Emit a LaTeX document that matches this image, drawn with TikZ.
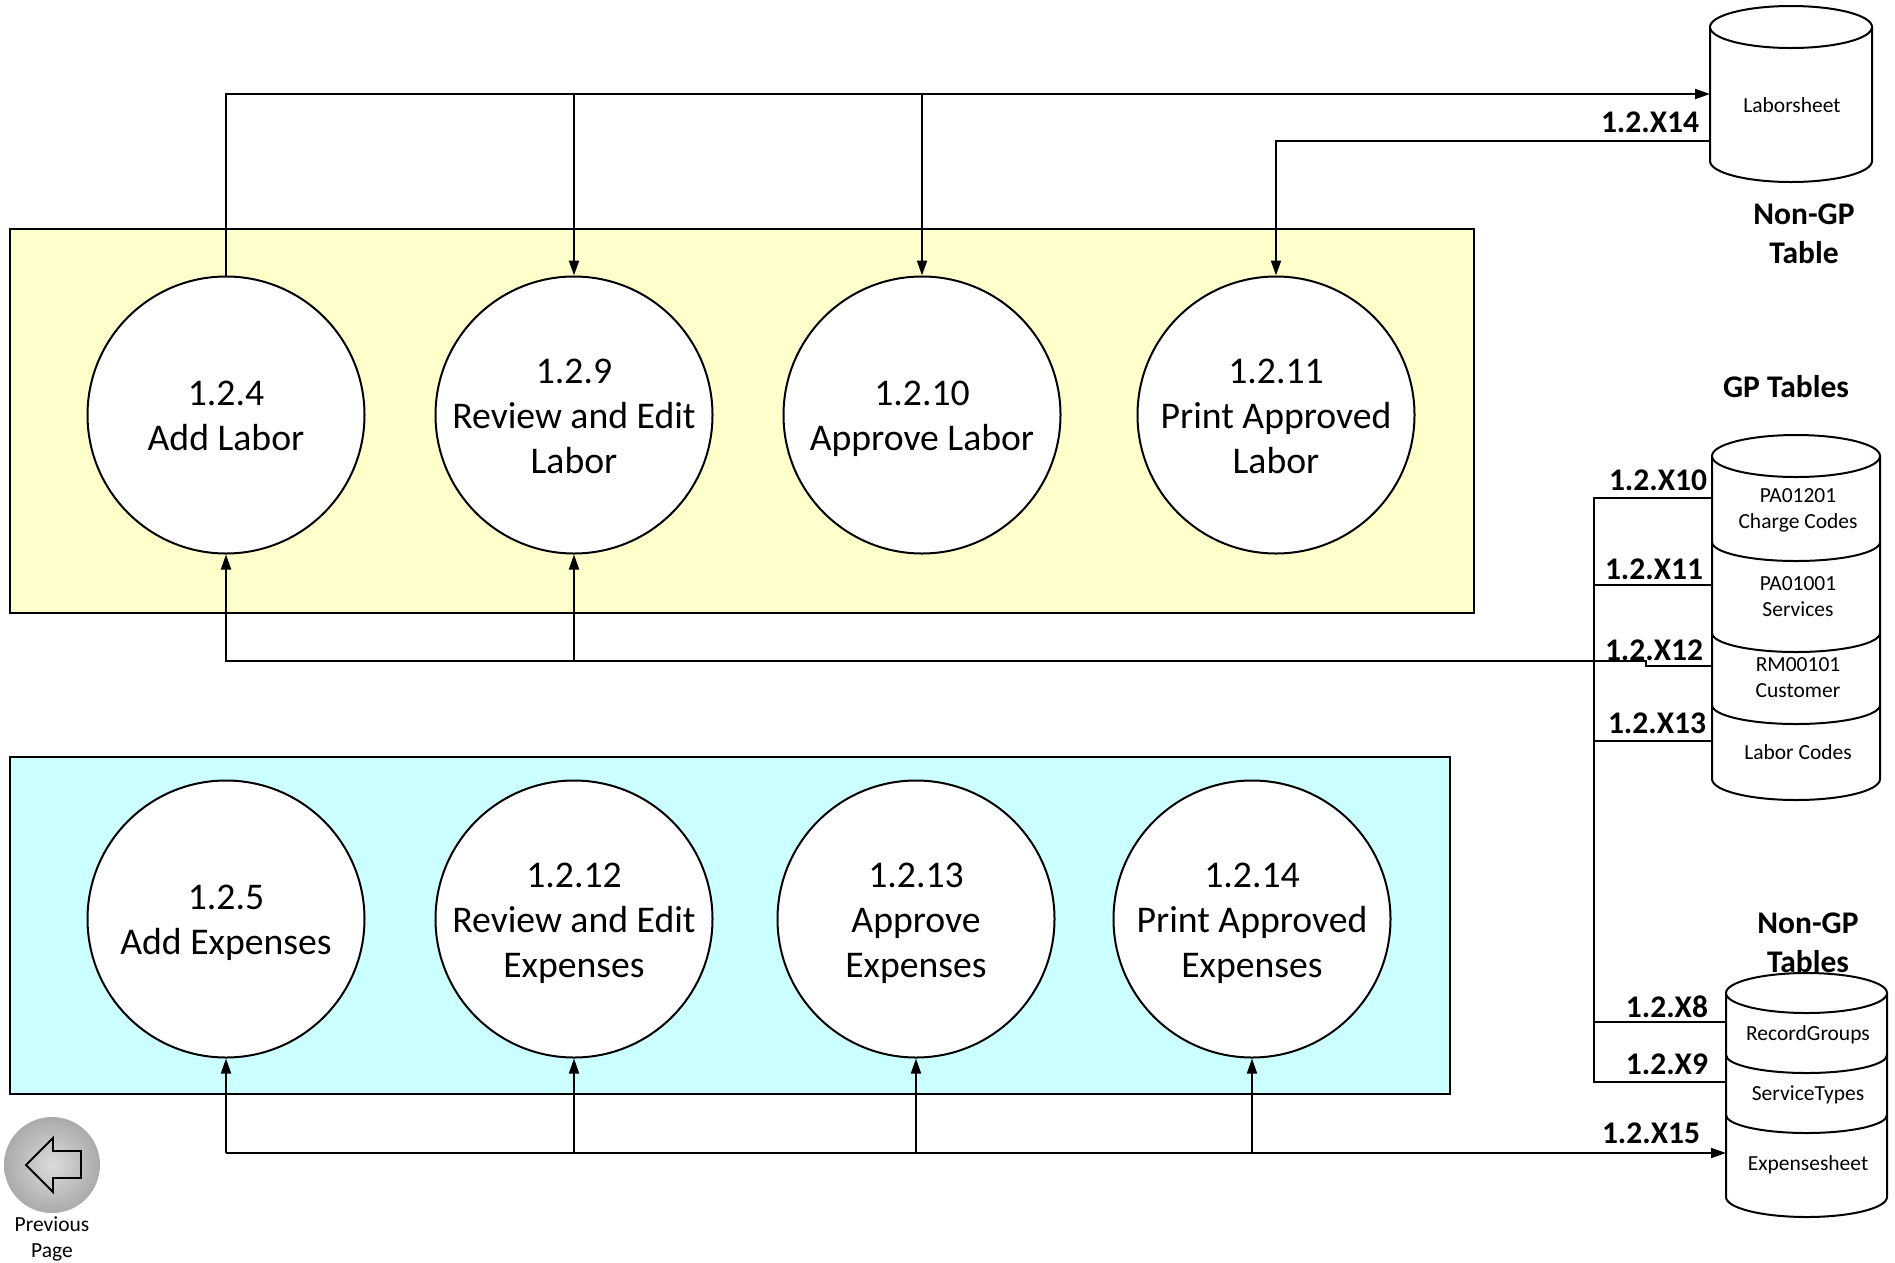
\documentclass[tikz,border=0pt]{standalone}
\usepackage{fontspec}
\setmainfont{Carlito}
\usetikzlibrary{arrows.meta}
\definecolor{yellowbox}{HTML}{FFFFCC}
\definecolor{cyanbox}{HTML}{CCFFFF}
\pgfdeclareradialshading{btnshade}{\pgfpoint{0bp}{0bp}}{rgb(0bp)=(.86,.86,.86); rgb(30bp)=(.63,.63,.63); rgb(50bp)=(.63,.63,.63)}
\newcommand{\st}{\rule[-0.15em]{0pt}{1em}}
\tikzset{
  band/.style={draw=black,line width=2pt},
  proc/.style={circle,draw=black,fill=white,line width=2pt,minimum size=277pt,inner sep=0pt,align=center,
    font=\fontsize{37.7}{45}\selectfont},
  conn/.style={draw=black,line width=2pt},
  arr/.style={conn,-{Triangle[length=15pt,width=10pt]}},
  cyl/.style={draw=black,line width=2pt,line join=round},
  flow/.style={font=\fontsize{31.5}{36}\bfseries\selectfont,inner sep=0pt},
  head/.style={font=\fontsize{31.5}{38.5}\bfseries\selectfont,inner sep=0pt,align=center},
  small/.style={font=\fontsize{21.5}{26}\selectfont,inner sep=0pt,align=center}
}
% left, right, top-ellipse centre y, ry, bottom side y
\newcommand{\cylshape}[5]{%
  \draw[cyl] (#1,#3) -- (#1,#5) arc[start angle=180,end angle=0,x radius={(#2-#1)/2},y radius=#4] -- (#2,#3)
    arc[start angle=0,end angle=-180,x radius={(#2-#1)/2},y radius=#4]
    arc[start angle=180,end angle=0,x radius={(#2-#1)/2},y radius=#4];}
\newcommand{\cylband}[4]{%
  \draw[cyl] (#1,#3) arc[start angle=180,end angle=0,x radius={(#2-#1)/2},y radius=#4];}
\begin{document}
\begin{tikzpicture}[x=1pt,y=-1pt]
\useasboundingbox (0,0) rectangle (1895,1262);
% bands
\draw[band,fill=yellowbox] (10,229) rectangle (1474,613);
\draw[band,fill=cyanbox] (10,757) rectangle (1450,1093.5);
% processes
\node[proc] (p4) at (226,415) {\st 1.2.4\\\st Add Labor};
\node[proc] (p9) at (574,415) {\st 1.2.9\\Review and Edit\\\st Labor};
\node[proc] (p10) at (922,415) {\st 1.2.10\\\st Approve Labor};
\node[proc] (p11) at (1276,415) {\st 1.2.11\\Print Approved\\\st Labor};
\node[proc] (p5) at (226,919) {\st 1.2.5\\\st Add Expenses};
\node[proc] (p12) at (574,919) {\st 1.2.12\\Review and Edit\\\st Expenses};
\node[proc] (p13) at (916,919) {\st 1.2.13\\Approve\\\st Expenses};
\node[proc] (p14) at (1252,919) {\st 1.2.14\\Print Approved\\\st Expenses};
% cylinders
\cylshape{1710}{1872}{27}{21}{161}
\cylshape{1712}{1880}{456}{21}{779}
\cylband{1712}{1880}{542}{19}
\cylband{1712}{1880}{633}{19}
\cylband{1712}{1880}{705}{19}
\cylshape{1726}{1887}{993}{20}{1197}
\cylband{1726}{1887}{1055}{18}
\cylband{1726}{1887}{1115}{18}
% cylinder texts
\node[small] (tlab) at (1792,105) {Laborsheet};
\node[small] (t1) at (1798,510) {PA01201\\Charge Codes};
\node[small] (t2) at (1798,597) {PA01001\\Services};
\node[small] (t3) at (1798,678) {RM00101\\Customer};
\node[small] (t4) at (1798,752) {Labor Codes};
\node[small] (t5) at (1808,1035) {RecordGroups};
\node[small] (t6) at (1808,1095) {ServiceTypes};
\node[small] (t7) at (1808,1165) {Expensesheet};
% cylinder ports
\coordinate (labin) at (1710,94);
\coordinate (labout) at (1710,141);
\coordinate (gp10) at (1712,498);
\coordinate (gp11) at (1712,585);
\coordinate (gp12) at (1712,666);
\coordinate (gp13) at (1712,741);
\coordinate (ng8) at (1726,1022);
\coordinate (ng9) at (1726,1082);
\coordinate (ng15) at (1726,1153);
\coordinate (bus) at (1594,498);
\coordinate (busend) at (1594,1082);
\coordinate (jog) at (1646,661);
% connectors
\draw[arr] (p4.north) -- (226,94) -- (labin);
\draw[arr] (574,94) -- (p9.north);
\draw[arr] (922,94) -- (p10.north);
\draw[arr] (labout) -- (1276,141) -- (p11.north);
\draw[conn] (gp10) -- (bus) -- (busend) -- (ng9);
\draw[conn] (gp11) -- (1594,585);
\draw[conn] (gp13) -- (1594,741);
\draw[conn] (ng8) -- (1594,1022);
\draw[arr] (gp12) -- (1646,666) -- (jog) -- (226,661) -- (p4.south);
\draw[arr] (574,661) -- (p9.south);
\draw[arr] (ng15 -| p5.south) -- (ng15);
\draw[arr] (ng15 -| p5.south) -- (p5.south);
\draw[arr] (ng15 -| p12.south) -- (p12.south);
\draw[arr] (ng15 -| p13.south) -- (p13.south);
\draw[arr] (ng15 -| p14.south) -- (p14.south);
% flow labels
\node[flow] (x14) at (1650,122) {1.2.X14};
\node[flow] (x10) at (1658,480) {1.2.X10};
\node[flow] (x11) at (1654,569) {1.2.X11};
\node[flow] (x12) at (1654,650) {1.2.X12};
\node[flow] (x13) at (1657,723) {1.2.X13};
\node[flow] (x8) at (1667,1007) {1.2.X8};
\node[flow] (x9) at (1667,1064) {1.2.X9};
\node[flow] (x15) at (1651,1133) {1.2.X15};
% headings
\node[head] (h1) at (1804,234) {Non-GP\\Table};
\node[head] (h2) at (1786,387) {GP Tables};
\node[head] (h3) at (1808,943) {Non-GP\\Tables};
% previous page button
\path[shading=btnshade] (52,1165) circle[radius=48];
\draw[line width=1.8pt,line join=miter] (26,1165) -- (53,1138) -- (53,1151) -- (81,1151) -- (81,1178) -- (53,1178) -- (53,1192) -- cycle;
\node[small] (prev) at (52,1239) {Previous\\Page};
\end{tikzpicture}
\end{document}
